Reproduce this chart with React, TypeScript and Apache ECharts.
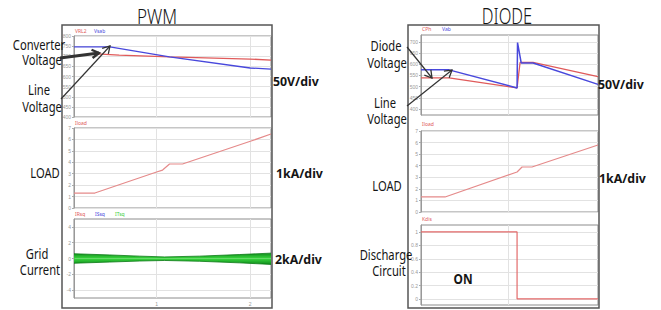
import React, { useEffect, useRef } from "react";
import * as echarts from "echarts";

// ---------- data (time in s, voltage in V, current in kA) ----------
const pwmConvT = [0.117, 0.5, 1.138, 2.0, 2.223];
const pwmConvV = [746, 746, 697, 642, 636];
const pwmLineT = [0.36, 0.6, 1.138, 2.0, 2.223];
const pwmLineV = [712, 706, 697, 686, 681];
const pwmLoadT = [0.117, 0.34, 1.0, 1.064, 1.138, 1.277, 2.01, 2.223];
const pwmLoadKA = [1.31, 1.31, 3.15, 3.32, 3.85, 3.85, 5.86, 6.47];
const gridT = [0.117, 0.5, 0.82, 1.085, 1.457, 1.883, 2.223];
const gridUpper = [0.6, 0.45, 0.3, 0.2, 0.3, 0.5, 0.68];
const gridLower = [-0.6, -0.45, -0.32, -0.25, -0.35, -0.55, -0.75];

const diodeVdT = [0.074, 0.372, 1.096, 1.101, 1.14, 1.266, 1.957];
const diodeVdV = [575, 575, 494, 697, 606, 606, 510];
const diodeLineT = [0.074, 0.372, 1.096, 1.128, 1.266, 1.957];
const diodeLineV = [539, 539, 494, 608, 608, 545];
const diodeLoadT = [0.074, 0.33, 1.096, 1.149, 1.255, 1.957];
const diodeLoadKA = [1.3, 1.3, 3.46, 3.89, 3.89, 5.79];
const dischargeT = [0.074, 1.096, 1.096, 1.957];
const dischargeOn = [1, 1, 0, 0];

const timeTicks = [1, 2];
const gridCurrentTicks = [-4, -2, 0, 2, 4];
const diodeVoltTicks = [400, 450, 500, 550, 600, 650, 700];
const dischargeTicks = [0, 0.2, 0.4, 0.6, 0.8, 1];

const RED = "#e05a5a";
const BLUE = "#4848dc";
const LOADRED = "#e58a8a";
const GREEN_DARK = "#0f8a1c";
const GREEN_BRIGHT = "#3ad83e";
const FONT = '"Noto Sans", "Open Sans", sans-serif';

const pairs = (t: number[], v: number[]) => t.map((x, i) => [x, v[i]]);

function txt(text: string, x: number, y: number, size: number, o: any = {}) {
  return {
    type: "text",
    x,
    y,
    scaleX: o.scaleX ?? 1,
    z: 100,
    style: {
      text,
      fontSize: size,
      fontFamily: FONT,
      fontWeight: o.weight ?? "normal",
      fill: o.fill ?? "#151515",
      align: o.align ?? "center",
      verticalAlign: "middle",
    },
  };
}

function arrow(x1: number, y1: number, x2: number, y2: number, w: number, head: number) {
  const a = Math.atan2(y2 - y1, x2 - x1);
  const bx = x2 - head * Math.cos(a);
  const by = y2 - head * Math.sin(a);
  const px = -Math.sin(a) * head * 0.6;
  const py = Math.cos(a) * head * 0.6;
  return [
    { type: "line", z: 100, shape: { x1, y1, x2, y2 }, style: { stroke: "#333", lineWidth: w } },
    {
      type: "polyline",
      z: 100,
      shape: { points: [[bx + px, by + py], [x2, y2], [bx - px, by - py]] },
      style: { stroke: "#333", lineWidth: Math.max(1.3, w * 0.8), fill: null },
    },
  ];
}

const tinyLabel = { fontSize: 5, color: "#999", margin: 3 };
const splitL = { show: true, lineStyle: { color: "#e2e2e2", width: 1 } };

function xAx(gridIndex: number, min: number, max: number, ticks: number[], showLabel: boolean) {
  return {
    type: "value",
    gridIndex,
    min,
    max,
    axisLine: { show: false },
    axisTick: { show: false, customValues: ticks },
    axisLabel: { show: showLabel, customValues: ticks, ...tinyLabel },
    splitLine: splitL,
  };
}

function yAx(gridIndex: number, min: number, max: number, extra: any) {
  return {
    type: "value",
    gridIndex,
    min,
    max,
    axisLine: { show: true, lineStyle: { color: "#999" } },
    axisTick: { show: true, length: 2, lineStyle: { color: "#aaa" }, ...(extra.ticks ? { customValues: extra.ticks } : {}) },
    axisLabel: { ...tinyLabel, ...(extra.ticks ? { customValues: extra.ticks } : {}) },
    splitLine: splitL,
    ...(extra.interval ? { interval: extra.interval } : {}),
  };
}

export default function App() {
  const ref = useRef<HTMLDivElement>(null);
  useEffect(() => {
    if (!ref.current) return;
    const chart = echarts.init(ref.current, null, { renderer: "svg" });
    const gridBox = { show: true, borderColor: "#8c8c8c", borderWidth: 1, backgroundColor: "#fff" };
    const line = (name: string, xi: number, data: any[], color: string, w: number) => ({
      name,
      type: "line",
      xAxisIndex: xi,
      yAxisIndex: xi,
      data,
      symbol: "none",
      lineStyle: { color, width: w },
      itemStyle: { color },
    });
    const option: any = {
      animation: false,
      backgroundColor: "#fff",
      grid: [
        { left: 74, top: 36, width: 197, height: 81, ...gridBox },
        { left: 74, top: 128, width: 197, height: 80, ...gridBox },
        { left: 74, top: 219, width: 197, height: 79, ...gridBox },
        { left: 421, top: 35, width: 177, height: 80, ...gridBox },
        { left: 421, top: 131, width: 177, height: 81, ...gridBox },
        { left: 421, top: 225, width: 177, height: 80, ...gridBox },
      ],
      xAxis: [
        xAx(0, 0.117, 2.223, timeTicks, false),
        xAx(1, 0.117, 2.223, timeTicks, false),
        xAx(2, 0.117, 2.223, timeTicks, true),
        xAx(3, 0.074, 1.957, timeTicks, false),
        xAx(4, 0.074, 1.957, timeTicks, false),
        xAx(5, 0.074, 1.957, timeTicks, false),
      ],
      yAxis: [
        yAx(0, 400, 800, { interval: 50 }),
        yAx(1, 0, 7, { interval: 1 }),
        yAx(2, -5, 5, { ticks: gridCurrentTicks }),
        yAx(3, 373, 731, { ticks: diodeVoltTicks }),
        yAx(4, 0, 7, { interval: 1 }),
        yAx(5, -0.09, 1.104, { ticks: dischargeTicks }),
      ],
      series: [
        line("Line Voltage", 0, pairs(pwmLineT, pwmLineV), RED, 1.3),
        line("Converter Voltage", 0, pairs(pwmConvT, pwmConvV), BLUE, 1.3),
        line("LOAD", 1, pairs(pwmLoadT, pwmLoadKA), LOADRED, 1.2),
        {
          ...line("Grid Current upper", 2, pairs(gridT, gridUpper), "#0d7a16", 0.8),
          areaStyle: {
            opacity: 1,
            color: new echarts.graphic.LinearGradient(0, 0, 0, 1, [
              { offset: 0, color: GREEN_DARK },
              { offset: 1, color: GREEN_BRIGHT },
            ]),
          },
        },
        {
          ...line("Grid Current lower", 2, pairs(gridT, gridLower), "#0d7a16", 0.8),
          areaStyle: {
            opacity: 1,
            color: new echarts.graphic.LinearGradient(0, 0, 0, 1, [
              { offset: 0, color: GREEN_BRIGHT },
              { offset: 1, color: GREEN_DARK },
            ]),
          },
        },
        line("Line Voltage D", 3, pairs(diodeLineT, diodeLineV), RED, 1.3),
        line("Diode Voltage", 3, pairs(diodeVdT, diodeVdV), BLUE, 1.5),
        line("LOAD D", 4, pairs(diodeLoadT, diodeLoadKA), LOADRED, 1.2),
        line("Discharge", 5, pairs(dischargeT, dischargeOn), "#e36a6a", 1.2),
      ],
      graphic: [
        { type: "rect", z: 50, shape: { x: 62, y: 25, width: 210, height: 283 }, style: { fill: null, stroke: "#555", lineWidth: 1.5 } },
        { type: "rect", z: 50, shape: { x: 408, y: 25, width: 191, height: 283 }, style: { fill: null, stroke: "#555", lineWidth: 1.5 } },
        txt("PWM", 157, 16, 20, { weight: 300, scaleX: 0.85 }),
        txt("DIODE", 507, 16, 22, { weight: 300, scaleX: 0.75 }),
        // tiny legends
        txt("VRL2", 75, 31, 5, { align: "left", fill: RED }),
        txt("Vsab", 94, 31, 5, { align: "left", fill: BLUE }),
        txt("Iload", 75, 123, 5, { align: "left", fill: RED }),
        txt("IRsq", 75, 214, 5, { align: "left", fill: RED }),
        txt("ISsq", 95, 214, 5, { align: "left", fill: BLUE }),
        txt("ITsq", 115, 214, 5, { align: "left", fill: "#3ccf3c" }),
        txt("CPh", 422, 29, 5, { align: "left", fill: RED }),
        txt("Vab", 442, 29, 5, { align: "left", fill: BLUE }),
        txt("Iload", 422, 124, 5, { align: "left", fill: RED }),
        txt("Kdis", 422, 219, 5, { align: "left", fill: RED }),
        // PWM annotations
        txt("Converter", 39, 44, 14, { scaleX: 0.8 }),
        txt("Voltage", 42, 59, 14, { scaleX: 0.8 }),
        txt("Line", 39, 89, 14, { scaleX: 0.8 }),
        txt("Voltage", 42, 106, 14, { scaleX: 0.8 }),
        txt("LOAD", 45, 172, 14, { scaleX: 0.8 }),
        txt("Grid", 37, 253, 14, { scaleX: 0.8 }),
        txt("Current", 40, 269, 14, { scaleX: 0.8 }),
        txt("50V/div", 273, 81, 13, { align: "left", weight: "bold", scaleX: 0.95 }),
        txt("1kA/div", 276, 173, 13, { align: "left", weight: "bold", scaleX: 0.95 }),
        txt("2kA/div", 275, 259, 13, { align: "left", weight: "bold", scaleX: 0.95 }),
        // DIODE annotations
        txt("Diode", 386, 45, 14, { scaleX: 0.8 }),
        txt("Voltage", 387, 62, 14, { scaleX: 0.8 }),
        txt("Line", 385, 102, 14, { scaleX: 0.8 }),
        txt("Voltage", 387, 118, 14, { scaleX: 0.8 }),
        txt("LOAD", 387, 185, 14, { scaleX: 0.8 }),
        txt("Discharge", 386, 254, 14, { scaleX: 0.8 }),
        txt("Circuit", 389, 270, 14, { scaleX: 0.8 }),
        txt("ON", 463, 279, 14, { weight: "bold", scaleX: 0.85 }),
        txt("50V/div", 598, 84, 13, { align: "left", weight: "bold", scaleX: 0.95 }),
        txt("1kA/div", 599, 178, 13, { align: "left", weight: "bold", scaleX: 0.95 }),
        // arrows
        ...arrow(60, 58, 99, 53, 3, 7),
        ...arrow(61, 99, 110, 46, 1.2, 7),
        ...arrow(407, 47, 432, 78, 1.2, 7),
        ...arrow(407, 106, 452, 70, 1.2, 7),
      ],
    };
    chart.setOption(option);
    return () => chart.dispose();
  }, []);
  return (
    <div
      ref={ref}
      style={{ position: "absolute", left: 0, top: 0, width: 661, height: 310, background: "#fff" }}
    />
  );
}
